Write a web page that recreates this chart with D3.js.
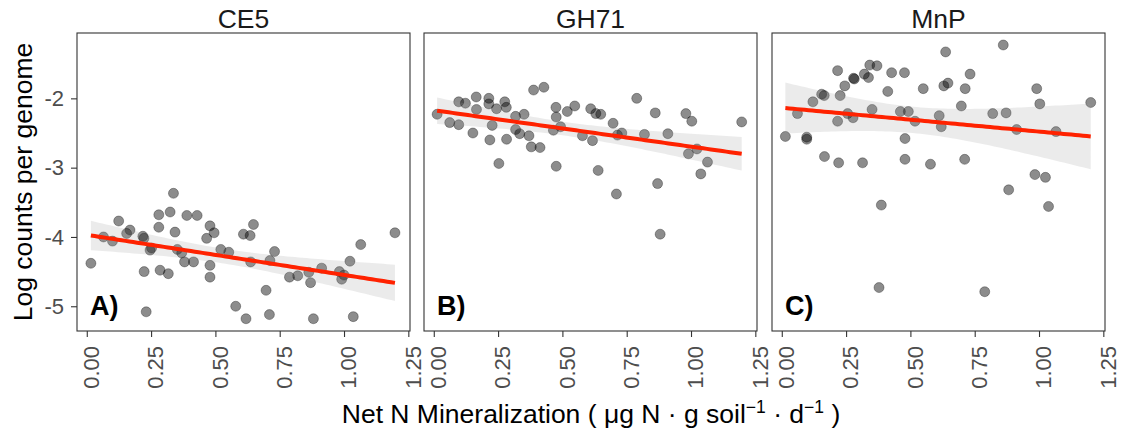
<!DOCTYPE html>
<html>
<head>
<meta charset="utf-8">
<script src="https://cdn.jsdelivr.net/npm/d3@7"></script>
<style>
  body { margin: 0; background: #fff; }
  text { font-family: "Liberation Sans", Arial, Helvetica, sans-serif; }
</style>
</head>
<body>
<svg id="chart" width="1121" height="434"></svg>
<script>
// Facet names and corner tags
const panelNames = ["CE5", "GH71", "MnP"];
const panelTags = ["A)", "B)", "C)"];

// CE5: net N mineralization vs log counts per genome
const ce5X = [0.016, 0.065, 0.10, 0.124, 0.155, 0.168, 0.218, 0.222, 0.223, 0.231, 0.246, 0.252,
  0.28, 0.28, 0.285, 0.317, 0.324, 0.337, 0.343, 0.352, 0.369, 0.38, 0.389, 0.415, 0.429,
  0.466, 0.479, 0.495, 0.479, 0.479, 0.521, 0.552, 0.579, 0.609, 0.635, 0.619, 0.637, 0.648,
  0.697, 0.71, 0.712, 0.73, 0.788, 0.82, 0.863, 0.87, 0.881, 0.913, 0.982, 0.991, 1.0,
  1.023, 1.036, 1.065, 1.198];
const ce5Y = [-4.38, -4.00, -4.06, -3.77, -3.95, -3.90, -3.99, -4.02, -4.50, -5.08, -4.19, -4.16,
  -3.68, -3.86, -4.48, -4.53, -3.64, -3.37, -3.93, -4.18, -4.23, -4.36, -3.69, -4.36, -3.69,
  -4.02, -3.84, -3.94, -4.41, -4.58, -4.18, -4.22, -5.00, -3.96, -3.98, -5.18, -4.36, -3.82,
  -4.77, -5.12, -4.34, -4.21, -4.58, -4.56, -4.51, -4.66, -5.18, -4.45, -4.50, -4.61, -4.55,
  -4.35, -5.15, -4.11, -3.94];

// GH71
const gh71X = [0.013, 0.062, 0.097, 0.097, 0.123, 0.152, 0.165, 0.166, 0.214, 0.214, 0.218, 0.227,
  0.244, 0.253, 0.276, 0.282, 0.283, 0.318, 0.318, 0.334, 0.351, 0.37, 0.379, 0.388, 0.413,
  0.428, 0.465, 0.475, 0.476, 0.476, 0.493, 0.519, 0.548, 0.578, 0.61, 0.617, 0.63, 0.649,
  0.639, 0.697, 0.71, 0.714, 0.731, 0.789, 0.819, 0.861, 0.87, 0.88, 0.91, 0.98, 0.99,
  1.003, 1.023, 1.038, 1.064, 1.197];
const gh71Y = [-2.23, -2.35, -2.05, -2.38, -2.07, -2.50, -1.98, -2.16, -2.00, -2.08, -2.60, -2.39,
  -2.15, -2.94, -2.05, -2.13, -2.59, -2.26, -2.45, -2.51, -2.23, -2.54, -2.70, -1.88, -2.71,
  -1.84, -2.46, -2.13, -2.27, -2.98, -2.41, -2.19, -2.11, -2.54, -2.15, -2.61, -2.22, -2.23,
  -3.04, -2.36, -3.38, -2.53, -2.50, -2.00, -2.52, -2.21, -3.23, -3.96, -2.51, -2.22, -2.80,
  -2.33, -2.73, -3.09, -2.92, -2.34];

// MnP
const mnpX = [0.014, 0.061, 0.097, 0.097, 0.121, 0.155, 0.165, 0.166, 0.217, 0.217, 0.221, 0.227,
  0.245, 0.256, 0.277, 0.282, 0.279, 0.314, 0.321, 0.337, 0.342, 0.351, 0.37, 0.378, 0.387,
  0.412, 0.427, 0.461, 0.477, 0.479, 0.479, 0.492, 0.518, 0.55, 0.578, 0.612, 0.62, 0.63,
  0.646, 0.637, 0.698, 0.711, 0.713, 0.732, 0.789, 0.82, 0.861, 0.872, 0.882, 0.913, 0.984,
  0.991, 1.003, 1.025, 1.037, 1.066, 1.201];
const mnpY = [-2.55, -2.22, -2.56, -2.59, -2.05, -1.94, -1.96, -2.84, -1.60, -2.33, -2.93, -1.96,
  -1.82, -2.22, -2.28, -1.72, -1.71, -2.93, -1.65, -1.70, -1.52, -2.16, -1.53, -4.73, -3.54,
  -1.90, -1.63, -2.19, -1.63, -2.58, -2.88, -2.19, -2.33, -1.86, -2.95, -2.25, -2.41, -1.82,
  -1.78, -1.33, -2.11, -2.88, -1.86, -1.65, -4.79, -2.22, -1.23, -2.21, -3.32, -2.45, -3.10,
  -1.86, -2.08, -3.14, -3.56, -2.48, -2.06];

// Axis ticks
const xTickValues = [0, 0.25, 0.5, 0.75, 1.0, 1.25];
const yTickValues = [-5, -4, -3, -2];

const series = [
  { x: ce5X, y: ce5Y },
  { x: gh71X, y: gh71Y },
  { x: mnpX, y: mnpY }
];

// Layout
const panelLeft = [77, 424, 772];
const panelW = 333;
const panelTop = 33, panelBottom = 331;
const xDomain = [-0.038, 1.2565];
const yDomain = [-5.357, -1.057];

const y = d3.scaleLinear().domain(yDomain).range([panelBottom, panelTop]);

const svg = d3.select("#chart");
svg.append("rect").attr("width", 1121).attr("height", 434).attr("fill", "#fff");

// Ordinary least squares fit with a 95% confidence band, as in geom_smooth(method = "lm")
function lmFit(xs, ys) {
  const n = xs.length;
  const mx = d3.mean(xs), my = d3.mean(ys);
  let sxx = 0, sxy = 0;
  for (let i = 0; i < n; i++) { sxx += (xs[i] - mx) ** 2; sxy += (xs[i] - mx) * (ys[i] - my); }
  const b = sxy / sxx, a = my - b * mx;
  let sse = 0;
  for (let i = 0; i < n; i++) sse += (ys[i] - a - b * xs[i]) ** 2;
  const s2 = sse / (n - 2);
  const df = n - 2, z = 1.959964;
  const t = z + (z ** 3 + z) / (4 * df) + (5 * z ** 5 + 16 * z ** 3 + 3 * z) / (96 * df * df);
  const [x0, x1] = d3.extent(xs);
  return d3.range(80).map(i => {
    const xv = x0 + (x1 - x0) * i / 79;
    const fit = a + b * xv;
    const se = Math.sqrt(s2 * (1 / n + (xv - mx) ** 2 / sxx));
    return { x: xv, fit, lo: fit - t * se, hi: fit + t * se };
  });
}

series.forEach((s, k) => {
  const left = panelLeft[k];
  const x = d3.scaleLinear().domain(xDomain).range([left, left + panelW]);
  const g = svg.append("g");

  const clipId = "clip" + k;
  svg.append("clipPath").attr("id", clipId).append("rect")
    .attr("x", left).attr("y", panelTop).attr("width", panelW).attr("height", panelBottom - panelTop);
  const inner = g.append("g").attr("clip-path", `url(#${clipId})`);

  // points
  inner.selectAll("circle").data(s.x.map((v, i) => [v, s.y[i]])).join("circle")
    .attr("cx", d => x(d[0])).attr("cy", d => y(d[1])).attr("r", 5)
    .attr("fill", "#000").attr("fill-opacity", 0.45)
    .attr("stroke", "#000").attr("stroke-opacity", 0.3).attr("stroke-width", 1);

  // confidence band and fitted line
  const fit = lmFit(s.x, s.y);
  inner.append("path").datum(fit)
    .attr("d", d3.area().x(d => x(d.x)).y0(d => y(d.lo)).y1(d => y(d.hi)))
    .attr("fill", "#999").attr("fill-opacity", 0.2);
  inner.append("path").datum(fit)
    .attr("d", d3.line().x(d => x(d.x)).y(d => y(d.fit)))
    .attr("fill", "none").attr("stroke", "#ff2200").attr("stroke-width", 4);

  // panel border
  g.append("rect").attr("x", left).attr("y", panelTop)
    .attr("width", panelW).attr("height", panelBottom - panelTop)
    .attr("fill", "none").attr("stroke", "#333").attr("stroke-width", 1.1);

  // strip title
  g.append("text").attr("x", left + panelW / 2).attr("y", 28)
    .attr("text-anchor", "middle").attr("font-size", 26.5).attr("fill", "#1a1a1a")
    .text(panelNames[k]);

  // corner tag
  g.append("text").attr("x", left + 13).attr("y", 315)
    .attr("font-size", 27).attr("font-weight", "bold").attr("fill", "#000")
    .text(panelTags[k]);

  // bottom axis
  const xAxis = g.append("g").attr("transform", `translate(0,${panelBottom})`)
    .call(d3.axisBottom(x).tickValues(xTickValues).tickSize(6).tickFormat(d3.format(".2f")));
  xAxis.select(".domain").remove();
  xAxis.selectAll(".tick line").attr("stroke", "#333").attr("stroke-width", 1.1);
  xAxis.selectAll(".tick text")
    .attr("font-size", 22).attr("fill", "#4d4d4d")
    .attr("text-anchor", "end")
    .attr("x", 0).attr("y", 0).attr("dy", "0.35em")
    .attr("transform", "translate(4,15) rotate(-90)");

  // left axis on the first panel only
  if (k === 0) {
    const yAxis = g.append("g").attr("transform", `translate(${left},0)`)
      .call(d3.axisLeft(y).tickValues(yTickValues).tickSize(6).tickPadding(7).tickFormat(d => String(d)));
    yAxis.select(".domain").remove();
    yAxis.selectAll(".tick line").attr("stroke", "#333").attr("stroke-width", 1.1);
    yAxis.selectAll(".tick text").attr("font-size", 22).attr("fill", "#4d4d4d");
  }
});

// axis titles
svg.append("text")
  .attr("transform", `translate(32,${(panelTop + panelBottom) / 2}) rotate(-90)`)
  .attr("text-anchor", "middle").attr("font-size", 26.5).attr("fill", "#000")
  .text("Log counts per genome");

const xt = svg.append("text").attr("x", (panelLeft[0] + panelLeft[2] + panelW) / 2).attr("y", 423)
  .attr("text-anchor", "middle").attr("font-size", 26.5).attr("fill", "#000");
xt.append("tspan").text("Net N Mineralization ( \u03BCg N \u00B7 g soil");
xt.append("tspan").attr("font-size", 17.5).attr("dy", -10).text("\u22121");
xt.append("tspan").attr("dy", 10).text(" \u00B7 d");
xt.append("tspan").attr("font-size", 17.5).attr("dy", -10).text("\u22121");
xt.append("tspan").attr("dy", 10).text(" )");
</script>
</body>
</html>
